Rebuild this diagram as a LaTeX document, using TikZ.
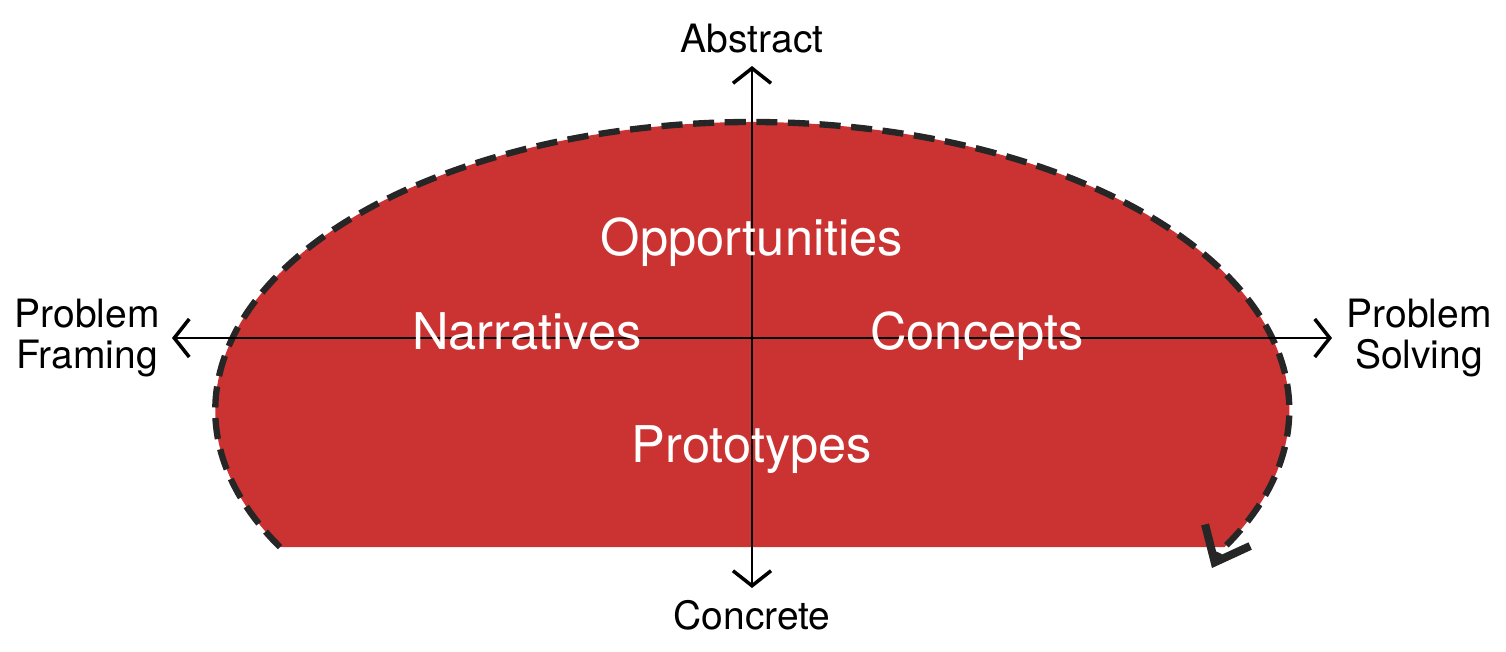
\documentclass[tikz,border=0pt]{standalone}
\usepackage{fontspec}
\setmainfont{TeX Gyre Heros}
\usetikzlibrary{arrows.meta}
\definecolor{spacered}{RGB}{203,51,51}
\definecolor{loopgray}{RGB}{38,38,38}
\tikzset{
    axis/.style={line width=0.7pt, {Straight Barb[length=1.5mm, width=3.8mm, line width=1pt]}-{Straight Barb[length=1.5mm, width=3.8mm, line width=1pt]}},
    axislabel/.style={anchor=base, align=center, inner sep=0pt, font=\fontsize{11.1}{11.4}\selectfont},
    region/.style={anchor=base, inner sep=0pt, text=white, font=\fontsize{14.4}{16}\selectfont}
}

\begin{document}
\begin{tikzpicture}
    \useasboundingbox (0,0) rectangle (15.06,6.51);
    % Space
    \fill[spacered] (2.80,1.04) arc[start angle=208.4, end angle=-28.4, x radius=5.37, y radius=2.88] -- cycle;
    % Loop
    \draw[loopgray, line width=1.8pt, dash pattern=on 6pt off 3pt, -{Straight Barb[length=3mm, width=5mm, line width=2.3pt]}]
        (2.80,1.04) arc[start angle=208.4, end angle=-29.5, x radius=5.37, y radius=2.88] -- (12.12,0.83);

    % Axes
    \coordinate (top) at (7.52,5.85);
    \coordinate (bottom) at (7.52,0.63);
    \coordinate (left) at (1.72,3.13);
    \coordinate (right) at (13.32,3.13);
    \draw[axis] (bottom) -- (top);
    \draw[axis] (left) -- (right);

    % Axis labels
    \node[axislabel] (abstract) at (7.52,5.99) {Abstract};
    \node[axislabel] (concrete) at (7.52,0.22) {Concrete};
    \node[axislabel] (framing) at (0.87,2.83) {Problem\\Framing};
    \node[axislabel] (solving) at (14.19,2.83) {Problem\\Solving};

    % Regions
    \node[region] (opportunities) at (7.52,3.96) {Opportunities};
    \node[region] (narratives) at (5.27,3.02) {Narratives};
    \node[region] (concepts) at (9.77,3.02) {Concepts};
    \node[region] (prototypes) at (7.52,1.89) {Prototypes};
\end{tikzpicture}
\end{document}
